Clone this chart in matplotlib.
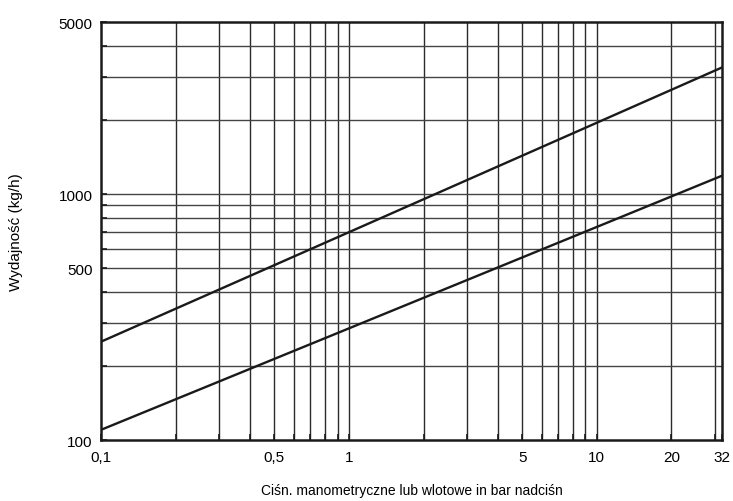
import matplotlib
matplotlib.use("Agg")
import matplotlib.pyplot as plt
from matplotlib.ticker import FixedLocator, NullFormatter

plt.rcParams['font.family'] = ['Liberation Sans', 'DejaVu Sans']

# data (log-log straight lines)
pressure = [0.1, 32]
flow_upper = [251, 3270]
flow_lower = [110, 1187]

x_ticks = [0.1, 0.5, 1, 5, 10, 20, 32]
x_tick_labels = ["0,1", "0,5", "1", "5", "10", "20", "32"]
y_ticks = [100, 500, 1000, 5000]
y_tick_labels = ["100", "500", "1000", "5000"]

x_grid = [0.2, 0.3, 0.4, 0.5, 0.6, 0.7, 0.8, 0.9, 1,
          2, 3, 4, 5, 6, 7, 8, 9, 10, 20, 30]
y_grid = [200, 300, 400, 500, 600, 700, 800, 900, 1000,
          2000, 3000, 4000]

fig = plt.figure(figsize=(7.33, 5.02), dpi=100)
ax = fig.add_axes([0.1378, 0.1215, 0.8472, 0.8325])

ax.set_xscale("log")
ax.set_yscale("log")
ax.set_xlim(0.1, 32)
ax.set_ylim(100, 5000)

for gx in x_grid:
    ax.axvline(gx, color="#2a2a2a", lw=1.0, zorder=1)
for gy in y_grid:
    ax.axhline(gy, color="#444444", lw=1.0, zorder=1)

ax.plot(pressure, flow_upper, color="#1a1a1a", lw=1.7, zorder=3)
ax.plot(pressure, flow_lower, color="#1a1a1a", lw=1.7, zorder=3)

ax.xaxis.set_major_locator(FixedLocator(x_ticks))
ax.set_xticklabels(x_tick_labels)
ax.xaxis.set_minor_locator(FixedLocator(x_grid))
ax.xaxis.set_minor_formatter(NullFormatter())
ax.yaxis.set_major_locator(FixedLocator(y_ticks))
ax.set_yticklabels(y_tick_labels)
ax.yaxis.set_minor_locator(FixedLocator(y_grid))
ax.yaxis.set_minor_formatter(NullFormatter())

ax.tick_params(which="both", direction="in", length=4, width=1.2,
               color="#1a1a1a", labelsize=11, top=False, right=False)
ax.tick_params(axis="x", which="major", pad=7)
ax.tick_params(axis="y", which="major", pad=6)

for side in ["left", "bottom", "right", "top"]:
    ax.spines[side].set_linewidth(1.8)
    ax.spines[side].set_color("#1a1a1a")

ax.set_xlabel("Ciśn. manometryczne lub wlotowe in bar nadciśn", fontsize=10, labelpad=14)
ax.set_ylabel("Wydajność (kg/h)", fontsize=11, labelpad=26)

fig.savefig("out.png", dpi=100)
